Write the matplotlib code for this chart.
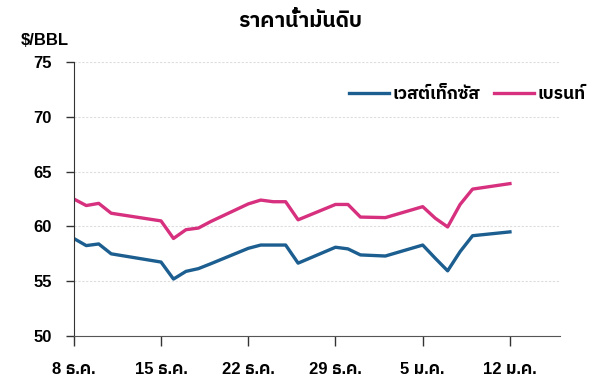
import matplotlib
matplotlib.use("Agg")
import numpy as np
import pandas as pd
import matplotlib.pyplot as plt

# ข้อมูลราคาน้ำมันดิบ (อ่านจากกราฟ)
dates = pd.to_datetime([
    "2025-12-08", "2025-12-09", "2025-12-10", "2025-12-11", "2025-12-15",
    "2025-12-16", "2025-12-17", "2025-12-18", "2025-12-19", "2025-12-22",
    "2025-12-23", "2025-12-24", "2025-12-25", "2025-12-26", "2025-12-29",
    "2025-12-30", "2025-12-31", "2026-01-02", "2026-01-05", "2026-01-06",
    "2026-01-07", "2026-01-08", "2026-01-09", "2026-01-12",
])
wti = [58.9, 58.25, 58.4, 57.5, 56.75, 55.2, 55.9, 56.15, 56.6, 58.0,
       58.3, 58.3, 58.3, 56.65, 58.1, 57.95, 57.4, 57.3, 58.3, 57.1,
       55.95, 57.7, 59.15, 59.5]
brent = [62.5, 61.9, 62.1, 61.2, 60.5, 58.9, 59.7, 59.85, 60.45, 62.05,
         62.4, 62.25, 62.25, 60.6, 62.0, 62.0, 60.85, 60.8, 61.8, 60.75,
         59.95, 62.0, 63.4, 63.9]
tick_dates = pd.to_datetime(["2025-12-08", "2025-12-15", "2025-12-22",
                             "2025-12-29", "2026-01-05", "2026-01-12"])
tick_labels = ["8 ธ.ค.", "15 ธ.ค.", "22 ธ.ค.", "29 ธ.ค.", "5 ม.ค.", "12 ม.ค."]
series_names = ["เวสต์เท็กซัส", "เบรนท์"]

plt.rcParams['font.family'] = ['Liberation Sans', 'IBM Plex Sans Thai']
plt.rcParams['font.weight'] = 'bold'

fig = plt.figure(figsize=(6, 3.89), dpi=100)
ax = fig.add_axes([0.123, 0.136, 0.81, 0.705])

ax.plot(dates, wti, color="#1b5e8f", lw=2.4, label=series_names[0])
ax.plot(dates, brent, color="#d6307f", lw=2.4, label=series_names[1])

ax.set_ylim(50, 75)
ax.set_yticks(np.arange(50, 76, 5))
ax.set_xlim(pd.Timestamp("2025-12-08"), pd.Timestamp("2026-01-16"))
ax.set_xticks(tick_dates)
ax.set_xticklabels(tick_labels)
ax.grid(axis="y", color="#dddddd", ls=(0, (2, 1.5)), lw=0.8)
ax.set_axisbelow(True)

for s in ["top", "right"]:
    ax.spines[s].set_visible(False)
ax.spines["left"].set_color("#333333")
ax.spines["bottom"].set_color("#555555")
ax.tick_params(axis="y", length=6, width=1, color="#333333", labelsize=12, pad=10)
ax.tick_params(axis="x", length=7, width=1, color="#333333", labelsize=12, pad=12)

ax.legend(loc="upper right", bbox_to_anchor=(1.085, 0.97), frameon=False,
          ncol=2, fontsize=12.5, handlelength=2.3, handletextpad=0.2,
          columnspacing=0.8)

fig.text(0.5, 0.945, "ราคาน้ำมันดิบ", ha="center", va="center", fontsize=15,
         fontweight="bold")
fig.text(0.035, 0.895, "$/BBL", ha="left", va="center", fontsize=12,
         fontweight="bold")

fig.savefig("out.png")
